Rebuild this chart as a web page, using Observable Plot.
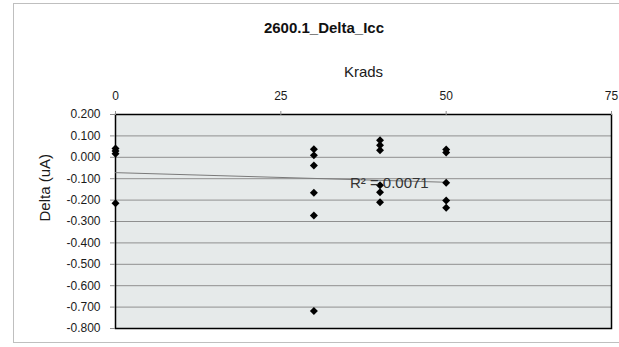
<!DOCTYPE html>
<html>
<head>
<meta charset="utf-8">
<script src="https://cdn.jsdelivr.net/npm/d3@7"></script>
<script src="https://cdn.jsdelivr.net/npm/@observablehq/plot@0.6"></script>
<style>
  html, body { margin: 0; padding: 0; background: #fff; overflow: hidden; }
  #wrap { position: relative; width: 619px; height: 347px; overflow: hidden; font-family: "Liberation Sans", Arial, sans-serif; }
  #border { position: absolute; left: 13px; top: 3px; width: 640px; height: 340px; border: 1px solid #bfbfbf; box-sizing: border-box; }
  #title { position: absolute; left: 224px; width: 200px; top: 20px; text-align: center; font-weight: bold; font-size: 15px; line-height: 15px; color: #111; }
  #chart { position: absolute; left: 0; top: 0; }
</style>
</head>
<body>
<div id="wrap">
  <div id="border"></div>
  <div id="chart"></div>
  <div id="title"></div>
</div>
<script>
const titleText = "2600.1_Delta_Icc";
const xLabel = "Krads";
const yLabel = "Delta (uA)";
const r2Label = "R² = 0.0071";
const xTicks = [0, 25, 50, 75];
const yTicks = [0.2, 0.1, 0, -0.1, -0.2, -0.3, -0.4, -0.5, -0.6, -0.7, -0.8];

// Dose (Krads) and delta Icc (uA) for each measured part
const krads = [0, 0, 0, 0,
               30, 30, 30, 30, 30, 30,
               40, 40, 40, 40, 40, 40,
               50, 50, 50, 50, 50];
const deltas = [0.041, 0.030, 0.017, -0.215,
                0.038, 0.009, -0.038, -0.166, -0.272, -0.718,
                0.080, 0.056, 0.033, -0.131, -0.163, -0.210,
                0.036, 0.022, -0.119, -0.202, -0.236];
const r2LabelKrads = 41.4;

const points = krads.map((k, i) => ({k, d: deltas[i]}));

// linear fit (for placing the R² label next to the trend line)
const mx = d3.mean(krads), my = d3.mean(deltas);
const sxy = d3.sum(points, p => (p.k - mx) * (p.d - my));
const sxx = d3.sum(points, p => (p.k - mx) ** 2);
const slope = sxy / sxx, intercept = my - slope * mx;

document.getElementById("title").textContent = titleText;

const chart = Plot.plot({
  width: 619,
  height: 347,
  marginLeft: 115,
  marginRight: 8,
  marginTop: 114,
  marginBottom: 19,
  style: { fontFamily: "'Liberation Sans', Arial, sans-serif", background: "transparent", color: "#1a1a1a" },
  x: { domain: [0, 75] },
  y: { domain: [-0.8, 0.2] },
  marks: [
    Plot.frame({ fill: "#e6eaea" }),
    Plot.gridY(yTicks, { stroke: "#8f8f8f", strokeOpacity: 1, strokeWidth: 1 }),
    Plot.frame({ stroke: "#000", strokeWidth: 1.5 }),
    Plot.axisX({ anchor: "top", ticks: xTicks, tickSize: 4, tickPadding: 11, fontSize: 12, label: null, stroke: "#8f8f8f" }),
    Plot.axisY({ anchor: "left", ticks: yTicks, tickSize: 5, tickPadding: 10, fontSize: 12, label: null, tickFormat: d => d.toFixed(3), stroke: "#8f8f8f" }),
    Plot.text([xLabel], { frameAnchor: "top", dy: -48, fontSize: 15, fill: "#1a1a1a" }),
    Plot.text([yLabel], { frameAnchor: "left", dx: -70, rotate: -90, fontSize: 15, fill: "#1a1a1a" }),
    Plot.linearRegressionY(points, { x: "k", y: "d", ci: 0, stroke: "#7a7a7a", strokeWidth: 1 }),
    Plot.dot(points, { x: "k", y: "d", symbol: "diamond2", r: 3.6, fill: "#000", stroke: "none" }),
    Plot.text([r2Label], { x: () => r2LabelKrads, y: () => intercept + slope * r2LabelKrads, dy: 3, fontSize: 15, fill: "#333" })
  ]
});
document.getElementById("chart").appendChild(chart);
</script>
</body>
</html>
